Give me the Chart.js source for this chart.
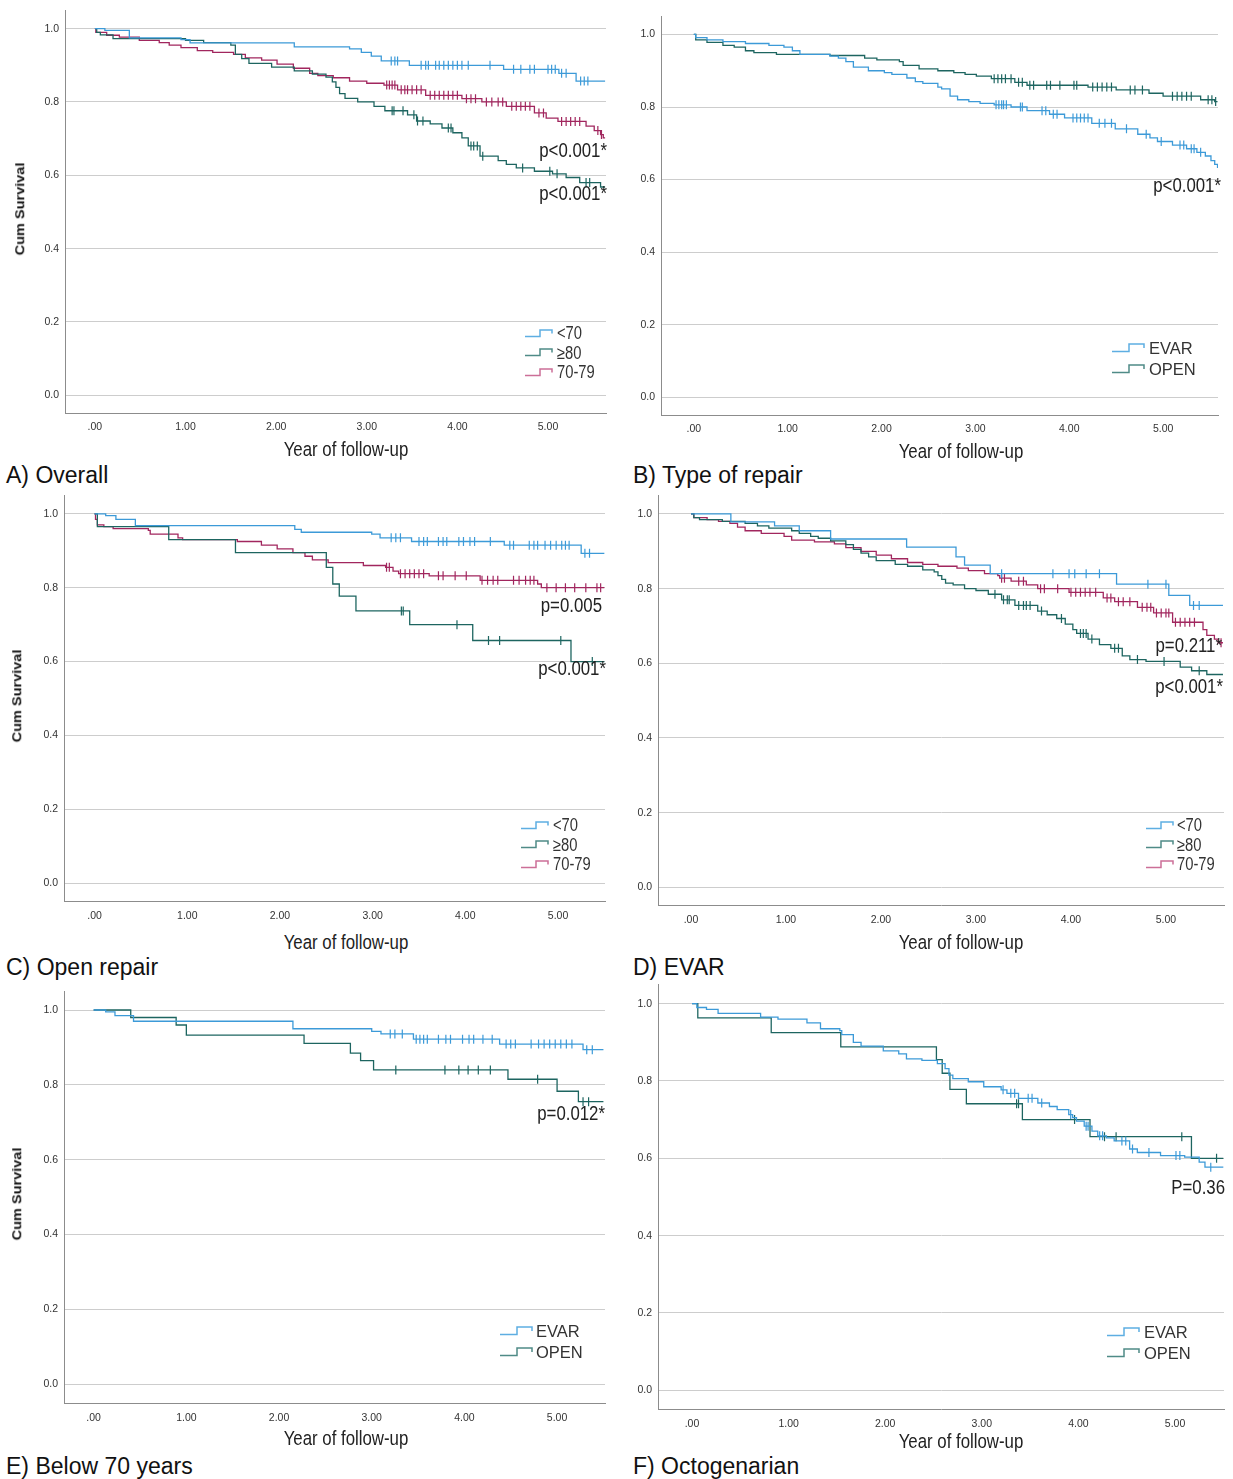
<!DOCTYPE html>
<html>
<head>
<meta charset="utf-8">
<script src="https://cdn.jsdelivr.net/npm/chart.js@4.4.1/dist/chart.umd.min.js"></script>
<style>
  body { margin: 0; background: #fff; width: 1233px; height: 1479px; position: relative; overflow: hidden;
         font-family: "Liberation Sans", Arial, sans-serif; color: #1a1a1a; }
  canvas { position: absolute; }
  .txt { position: absolute; white-space: nowrap; line-height: 1; }
  .panel-label { font-size: 23px; color: #111; transform: translate(0, -50%); }
  .x-title { font-size: 20.5px; color: #222; transform: translate(-50%, -50%) scaleX(0.82); }
  .y-title { font-size: 14.5px; font-weight: bold; color: #111; transform: translate(-50%, -50%) rotate(-90deg) scaleY(0.82); }
  .pval { font-size: 20.5px; color: #222; transform-origin: 100% 50%; transform: translate(-100%, -50%) scaleX(0.82); }
  .leg { position: absolute; white-space: nowrap; line-height: 1; color: #333; transform-origin: 0 50%; }
  svg { position: absolute; overflow: visible; }
</style>
</head>
<body>
<script>
// tick values shared by all panels
const xTicks = [0, 1, 2, 3, 4, 5];
const yTicks = [0, 0.2, 0.4, 0.6, 0.8, 1.0];

// A) Overall  -- [time, survival after the drop], censored times
const aLt70Steps = [[0.11,0.995],[0.38,0.975],[0.95,0.970],[1.05,0.961],[2.2,0.950],[2.81,0.945],[2.94,0.935],[3.05,0.925],[3.16,0.912],[3.47,0.900],[4.51,0.889],[5.12,0.878],[5.31,0.857]];
const aLt70Cens = [3.27,3.31,3.34,3.60,3.65,3.68,3.76,3.80,3.85,3.90,3.95,4.00,4.05,4.12,4.36,4.62,4.70,4.80,4.85,5.00,5.04,5.08,5.15,5.20,5.36,5.40,5.44];
const a80Steps = [[0.02,0.99],[0.06,0.983],[0.2,0.973],[1.0,0.968],[1.2,0.962],[1.5,0.955],[1.55,0.93],[1.62,0.918],[1.7,0.905],[1.95,0.895],[2.2,0.885],[2.4,0.876],[2.55,0.868],[2.62,0.855],[2.66,0.84],[2.7,0.823],[2.76,0.81],[2.9,0.80],[3.08,0.788],[3.2,0.776],[3.45,0.765],[3.55,0.748],[3.7,0.74],[3.83,0.729],[3.95,0.716],[4.05,0.702],[4.12,0.68],[4.25,0.652],[4.45,0.64],[4.54,0.63],[4.65,0.62],[4.85,0.611],[5.05,0.604],[5.2,0.594],[5.35,0.58],[5.58,0.568]];
const a80Cens = [3.28,3.30,3.40,3.52,3.56,3.62,3.90,3.93,4.15,4.18,4.22,4.28,4.72,5.02,5.10,5.42,5.46];
const a7079Steps = [[0.01,0.99],[0.13,0.982],[0.27,0.977],[0.49,0.968],[0.71,0.962],[0.82,0.955],[0.95,0.948],[1.13,0.94],[1.3,0.935],[1.53,0.93],[1.66,0.92],[1.84,0.914],[2.01,0.903],[2.19,0.892],[2.37,0.878],[2.46,0.872],[2.63,0.866],[2.81,0.857],[3.0,0.851],[3.19,0.846],[3.34,0.833],[3.65,0.818],[4.05,0.809],[4.27,0.80],[4.54,0.788],[4.85,0.77],[4.98,0.756],[5.11,0.747],[5.42,0.734],[5.51,0.722],[5.58,0.711],[5.61,0.702]];
const a7079Cens = [3.22,3.25,3.28,3.31,3.38,3.42,3.45,3.50,3.55,3.60,3.70,3.75,3.80,3.85,3.90,3.95,4.00,4.10,4.15,4.20,4.32,4.38,4.45,4.50,4.60,4.65,4.70,4.75,4.80,4.90,4.95,5.15,5.20,5.25,5.30,5.35,5.55,5.59];

// B) Type of repair
const bEvarSteps = [[0.02,0.991],[0.14,0.985],[0.31,0.98],[0.55,0.975],[0.8,0.97],[0.96,0.965],[1.05,0.955],[1.13,0.945],[1.45,0.94],[1.54,0.935],[1.62,0.925],[1.70,0.91],[1.86,0.90],[2.03,0.895],[2.11,0.89],[2.27,0.88],[2.36,0.87],[2.44,0.865],[2.6,0.855],[2.64,0.85],[2.73,0.83],[2.81,0.82],[2.93,0.815],[3.05,0.81],[3.2,0.806],[3.38,0.80],[3.55,0.79],[3.79,0.78],[3.95,0.77],[4.24,0.755],[4.49,0.74],[4.73,0.725],[4.86,0.715],[4.94,0.705],[5.1,0.695],[5.25,0.685],[5.36,0.675],[5.45,0.665],[5.51,0.652],[5.55,0.642],[5.58,0.632]];
const bEvarCens = [3.22,3.25,3.28,3.30,3.33,3.48,3.50,3.71,3.75,3.83,3.87,4.04,4.08,4.12,4.16,4.20,4.32,4.38,4.45,4.61,4.82,4.98,5.18,5.22,5.30,5.33,5.40];
const bOpenSteps = [[0.02,0.985],[0.14,0.978],[0.31,0.97],[0.43,0.965],[0.55,0.955],[0.64,0.95],[0.88,0.945],[1.45,0.942],[1.82,0.935],[1.95,0.93],[2.19,0.925],[2.23,0.915],[2.4,0.905],[2.6,0.90],[2.77,0.895],[2.89,0.89],[3.01,0.885],[3.17,0.878],[3.42,0.868],[3.55,0.86],[4.2,0.855],[4.5,0.847],[4.85,0.838],[5.0,0.83],[5.4,0.82],[5.55,0.815]];
const bOpenCens = [3.20,3.24,3.28,3.32,3.38,3.46,3.50,3.58,3.62,3.76,3.80,3.90,4.05,4.08,4.25,4.30,4.35,4.40,4.45,4.65,4.70,4.78,5.10,5.15,5.20,5.25,5.30,5.48,5.52,5.56];

// C) Open repair
const cLt70Steps = [[0.12,0.995],[0.23,0.985],[0.44,0.968],[2.16,0.958],[2.23,0.95],[2.99,0.945],[3.08,0.935],[3.42,0.925],[4.42,0.915],[5.25,0.893]];
const cLt70Cens = [3.20,3.25,3.30,3.50,3.55,3.59,3.71,3.76,3.80,3.93,3.98,4.05,4.10,4.27,4.48,4.52,4.69,4.74,4.78,4.86,4.92,4.98,5.04,5.08,5.12,5.29,5.34];
const c80Steps = [[0.03,0.965],[0.8,0.93],[1.52,0.895],[2.5,0.855],[2.57,0.81],[2.64,0.777],[2.82,0.737],[3.4,0.70],[4.08,0.657],[5.14,0.60]];
const c80Cens = [3.31,3.33,3.91,4.25,4.37,5.03,5.37];
const c7079Steps = [[0.01,0.985],[0.03,0.97],[0.1,0.965],[0.2,0.96],[0.58,0.955],[0.6,0.945],[0.9,0.935],[0.95,0.93],[1.54,0.925],[1.8,0.915],[1.97,0.905],[2.14,0.895],[2.27,0.885],[2.35,0.875],[2.52,0.868],[2.9,0.86],[3.14,0.855],[3.22,0.845],[3.28,0.838],[3.61,0.832],[4.16,0.82],[4.78,0.81],[4.82,0.80]];
const c7079Cens = [3.15,3.18,3.30,3.35,3.40,3.45,3.50,3.55,3.71,3.76,3.89,4.01,4.18,4.24,4.30,4.35,4.52,4.58,4.65,4.70,4.74,4.88,4.98,5.08,5.18,5.30,5.42,5.46];

// D) EVAR
const dLt70Steps = [[0.42,0.979],[0.88,0.968],[1.14,0.955],[1.47,0.933],[2.27,0.911],[2.79,0.885],[2.88,0.863],[3.15,0.84],[4.48,0.812],[5.03,0.782],[5.25,0.755]];
const dLt70Cens = [3.27,3.81,3.98,4.04,4.16,4.30,4.81,5.00,5.29,5.35];
const d80Steps = [[0.03,0.99],[0.09,0.985],[0.33,0.98],[0.57,0.975],[0.7,0.968],[0.82,0.962],[1.06,0.955],[1.14,0.948],[1.26,0.94],[1.34,0.935],[1.47,0.928],[1.63,0.918],[1.71,0.905],[1.79,0.895],[1.87,0.885],[1.95,0.875],[2.15,0.865],[2.28,0.86],[2.44,0.85],[2.56,0.845],[2.6,0.835],[2.64,0.825],[2.68,0.815],[2.76,0.81],[2.88,0.80],[3.0,0.795],[3.13,0.785],[3.27,0.77],[3.41,0.755],[3.65,0.74],[3.75,0.73],[3.85,0.72],[3.94,0.705],[4.02,0.69],[4.06,0.68],[4.18,0.665],[4.3,0.65],[4.42,0.64],[4.54,0.62],[4.62,0.61],[4.79,0.605],[5.15,0.59],[5.27,0.58],[5.43,0.57]];
const d80Cens = [3.20,3.29,3.33,3.35,3.45,3.50,3.53,3.57,3.69,3.90,4.10,4.13,4.16,4.22,4.46,4.50,4.70,4.98,5.35];
const d7079Steps = [[0.03,0.99],[0.17,0.985],[0.29,0.98],[0.41,0.975],[0.49,0.965],[0.57,0.955],[0.74,0.948],[0.98,0.94],[1.06,0.93],[1.3,0.925],[1.51,0.92],[1.63,0.91],[1.79,0.90],[1.95,0.89],[2.11,0.88],[2.28,0.87],[2.44,0.865],[2.6,0.86],[2.8,0.855],[2.92,0.848],[3.09,0.84],[3.23,0.835],[3.25,0.828],[3.37,0.82],[3.53,0.81],[3.65,0.80],[3.98,0.79],[4.34,0.775],[4.46,0.765],[4.7,0.75],[4.87,0.735],[5.07,0.71],[5.39,0.69],[5.43,0.675],[5.51,0.665],[5.55,0.655]];
const d7079Cens = [3.27,3.30,3.45,3.50,3.68,3.72,3.86,4.00,4.05,4.10,4.15,4.20,4.26,4.38,4.42,4.50,4.55,4.62,4.75,4.80,4.84,4.90,4.95,5.00,5.03,5.10,5.15,5.20,5.25,5.30,5.58];

// E) Below 70 years
const eEvarSteps = [[0.13,0.995],[0.23,0.985],[0.43,0.97],[2.15,0.95],[3.0,0.943],[3.1,0.936],[3.45,0.922],[4.38,0.909],[5.28,0.894]];
const eEvarCens = [3.20,3.25,3.33,3.48,3.52,3.56,3.60,3.72,3.80,3.85,3.98,4.05,4.10,4.20,4.30,4.45,4.50,4.55,4.72,4.80,4.86,4.92,4.98,5.04,5.10,5.16,5.32,5.38];
const eOpenSteps = [[0.4,0.98],[0.89,0.96],[1.0,0.933],[2.27,0.911],[2.77,0.885],[2.88,0.865],[3.02,0.84],[4.47,0.815],[5.0,0.783],[5.23,0.755]];
const eOpenCens = [3.26,3.79,3.94,4.04,4.15,4.28,4.79,5.28,5.34];

// F) Octogenarian
const fEvarSteps = [[0.05,0.99],[0.15,0.985],[0.27,0.975],[0.71,0.965],[0.89,0.96],[1.19,0.95],[1.33,0.935],[1.53,0.93],[1.55,0.92],[1.67,0.9],[1.75,0.89],[1.98,0.878],[2.14,0.87],[2.22,0.857],[2.38,0.853],[2.54,0.845],[2.62,0.832],[2.66,0.815],[2.70,0.806],[2.86,0.798],[3.02,0.785],[3.2,0.777],[3.26,0.768],[3.38,0.755],[3.58,0.743],[3.7,0.734],[3.78,0.726],[3.9,0.713],[3.94,0.705],[3.98,0.696],[4.06,0.683],[4.14,0.67],[4.2,0.658],[4.29,0.653],[4.37,0.645],[4.53,0.624],[4.61,0.615],[4.85,0.607],[5.1,0.603],[5.25,0.59],[5.31,0.577]];
const fEvarCens = [3.22,3.30,3.34,3.48,3.52,3.62,3.92,4.08,4.10,4.22,4.25,4.45,4.49,4.56,4.73,5.01,5.05,5.37];
const fOpenSteps = [[0.06,0.963],[0.82,0.925],[1.54,0.888],[2.53,0.855],[2.59,0.82],[2.67,0.778],[2.84,0.741],[3.42,0.70],[4.12,0.656],[5.17,0.60]];
const fOpenCens = [3.36,3.38,3.96,4.27,4.39,5.07,5.43];

const BLUE = '#3c9ad8', TEAL = '#1d6560', CRIMSON = '#a1265e';
const BLUE_L = '#5eaee2', TEAL_L = '#4f8b87', CRIMSON_L = '#cc6f98';

const ageGroups = (lt70, ge80, g7079, end) => [
  { label: '<70', color: BLUE, legendColor: BLUE_L, steps: lt70[0], cens: lt70[1], end },
  { label: '\u226580', color: TEAL, legendColor: TEAL_L, steps: ge80[0], cens: ge80[1], end },
  { label: '70-79', color: CRIMSON, legendColor: CRIMSON_L, steps: g7079[0], cens: g7079[1], end }
];
const repairGroups = (evar, open, end) => [
  { label: 'EVAR', color: BLUE, legendColor: BLUE_L, steps: evar[0], cens: evar[1], end },
  { label: 'OPEN', color: TEAL, legendColor: TEAL_L, steps: open[0], cens: open[1], end }
];

// layout of the six panels (page pixels)
const panels = [
  { left: 0, l: 65, r: 606, y1: 23, y0: 395, xMin: -0.33, xMax: 5.64, tickY: 427,
    series: ageGroups([aLt70Steps, aLt70Cens], [a80Steps, a80Cens], [a7079Steps, a7079Cens], 5.63),
    label: 'A) Overall', labelX: 6, labelY: 475, xTitle: [346, 449], yTitle: [20, 209],
    pvals: [['p<0.001*', 607, 150], ['p<0.001*', 607, 193]],
    legend: { iconX: 525, textX: 557, y: 333, dy: 19.5, size: 18, squeeze: 0.82, w: 28, h: 7 } },
  { left: 628, l: 661, r: 1218, y1: 28, y0: 397, xMin: -0.35, xMax: 5.585, tickY: 429,
    series: repairGroups([bEvarSteps, bEvarCens], [bOpenSteps, bOpenCens], 5.58),
    label: 'B) Type of repair', labelX: 633, labelY: 475, xTitle: [961, 451], yTitle: null,
    pvals: [['p<0.001*', 1221, 185]],
    legend: { iconX: 1112, textX: 1149, y: 348, dy: 21, size: 16.5, squeeze: 1, w: 33, h: 8 } },
  { left: 0, l: 64, r: 605, y1: 508, y0: 883, xMin: -0.33, xMax: 5.507, tickY: 916,
    series: ageGroups([cLt70Steps, cLt70Cens], [c80Steps, c80Cens], [c7079Steps, c7079Cens], 5.5),
    label: 'C) Open repair', labelX: 6, labelY: 967, xTitle: [346, 942], yTitle: [17, 696],
    pvals: [['p=0.005', 602, 605], ['p<0.001*', 606, 668]],
    legend: { iconX: 521, textX: 553, y: 825, dy: 19.5, size: 18, squeeze: 0.82, w: 28, h: 7 } },
  { left: 628, l: 658, r: 1224, y1: 508, y0: 887, xMin: -0.347, xMax: 5.611, tickY: 920,
    series: ageGroups([dLt70Steps, dLt70Cens], [d80Steps, d80Cens], [d7079Steps, d7079Cens], 5.6),
    label: 'D) EVAR', labelX: 633, labelY: 967, xTitle: [961, 942], yTitle: null,
    pvals: [['p=0.211*', 1222, 645], ['p<0.001*', 1223, 686]],
    legend: { iconX: 1146, textX: 1177, y: 825, dy: 19.5, size: 18, squeeze: 0.82, w: 28, h: 7 } },
  { left: 0, l: 64, r: 605, y1: 1004, y0: 1384, xMin: -0.32, xMax: 5.517, tickY: 1418,
    series: repairGroups([eEvarSteps, eEvarCens], [eOpenSteps, eOpenCens], 5.5),
    label: 'E) Below 70 years', labelX: 6, labelY: 1466, xTitle: [346, 1438], yTitle: [17, 1194],
    pvals: [['p=0.012*', 605, 1113]],
    legend: { iconX: 500, textX: 536, y: 1331, dy: 21, size: 16.5, squeeze: 1, w: 33, h: 8 } },
  { left: 628, l: 658, r: 1224, y1: 998, y0: 1390, xMin: -0.352, xMax: 5.507, tickY: 1424,
    series: repairGroups([fEvarSteps, fEvarCens], [fOpenSteps, fOpenCens], 5.5),
    label: 'F) Octogenarian', labelX: 633, labelY: 1466, xTitle: [961, 1441], yTitle: null,
    pvals: [['P=0.36', 1225, 1187]],
    legend: { iconX: 1107, textX: 1144, y: 1332, dy: 21, size: 16.5, squeeze: 1, w: 33, h: 8 } }
];

function survAt(steps, t) {
  let s = 1;
  for (const [time, value] of steps) {
    if (time <= t) s = value;
  }
  return s;
}

function addText(cls, text, x, y) {
  const d = document.createElement('div');
  d.className = 'txt ' + cls;
  d.textContent = text;
  d.style.left = x + 'px';
  d.style.top = y + 'px';
  document.body.appendChild(d);
}

function addLegend(p) {
  const lg = p.legend;
  p.series.forEach((s, i) => {
    const y = lg.y + i * lg.dy;
    const svg = document.createElementNS('http://www.w3.org/2000/svg', 'svg');
    svg.setAttribute('width', lg.w);
    svg.setAttribute('height', lg.h + 2);
    svg.style.left = lg.iconX + 'px';
    svg.style.top = (y - lg.h / 2 - 1) + 'px';
    const mid = Math.round(lg.w * 0.52);
    const path = document.createElementNS('http://www.w3.org/2000/svg', 'path');
    path.setAttribute('d', `M0 ${lg.h + 0.5} H${mid} V1 H${lg.w - 1} V${lg.h * 0.5 + 1}`);
    path.setAttribute('fill', 'none');
    path.setAttribute('stroke', s.legendColor);
    path.setAttribute('stroke-width', '1.5');
    svg.appendChild(path);
    document.body.appendChild(svg);

    const t = document.createElement('div');
    t.className = 'leg';
    t.textContent = s.label;
    t.style.left = lg.textX + 'px';
    t.style.top = y + 'px';
    t.style.fontSize = lg.size + 'px';
    t.style.transform = `translate(0, -50%) scaleX(${lg.squeeze})`;
    document.body.appendChild(t);
  });
}

function drawPanel(p) {
  const unit = p.y0 - p.y1;
  const areaTop = p.y1 - 0.05 * unit;
  const areaBottom = p.y0 + 0.05 * unit;
  const cTop = Math.round(areaTop) - 6;
  const cWidth = Math.round(p.r) + 8 - p.left;
  const cHeight = p.tickY + 10 - cTop;

  const canvas = document.createElement('canvas');
  canvas.width = cWidth;
  canvas.height = cHeight;
  canvas.style.left = p.left + 'px';
  canvas.style.top = cTop + 'px';
  canvas.style.width = cWidth + 'px';
  canvas.style.height = cHeight + 'px';
  document.body.appendChild(canvas);

  const datasets = [];
  p.series.forEach(s => {
    const pts = [{ x: 0, y: 1 }].concat(s.steps.map(([t, v]) => ({ x: t, y: v })));
    pts.push({ x: s.end, y: s.steps[s.steps.length - 1][1] });
    datasets.push({
      label: s.label, data: pts, stepped: 'before',
      borderColor: s.color, borderWidth: 1.3, pointRadius: 0, fill: false
    });
    datasets.push({
      label: s.label + ' censored', data: s.cens.map(t => ({ x: t, y: survAt(s.steps, t) })),
      showLine: false, pointStyle: 'line', pointRotation: 90, pointRadius: 4.5,
      pointBorderColor: s.color, pointBorderWidth: 1.2, pointBackgroundColor: s.color
    });
  });

  const tickFont = { family: '"Liberation Sans", Arial, sans-serif', size: 10.5 };

  new Chart(canvas.getContext('2d'), {
    type: 'line',
    data: { datasets },
    options: {
      responsive: false,
      animation: false,
      devicePixelRatio: 1,
      layout: { padding: { top: areaTop - cTop, right: (p.left + cWidth) - p.r, left: 0, bottom: 0 } },
      plugins: { legend: { display: false }, tooltip: { enabled: false } },
      scales: {
        x: {
          type: 'linear', min: p.xMin, max: p.xMax, bounds: 'data',
          afterBuildTicks: s => { s.ticks = xTicks.map(v => ({ value: v })); },
          afterFit: s => { s.height = (cTop + cHeight) - areaBottom; },
          grid: { display: false, drawTicks: false },
          border: { display: true, color: '#8c8c8c', width: 1 },
          ticks: {
            font: tickFont, color: '#333', maxRotation: 0, autoSkip: false,
            padding: p.tickY - 6 - areaBottom,
            callback: v => (v === 0 ? '.00' : v.toFixed(2))
          }
        },
        y: {
          type: 'linear', min: -0.05, max: 1.05, bounds: 'data',
          afterBuildTicks: s => { s.ticks = yTicks.map(v => ({ value: v })); },
          afterFit: s => { s.width = p.l - p.left; },
          grid: { color: '#cdcdcd', lineWidth: 1, drawTicks: false },
          border: { display: true, color: '#8c8c8c', width: 1 },
          ticks: {
            font: tickFont, color: '#333', padding: 6,
            callback: v => v.toFixed(1)
          }
        }
      }
    }
  });

  addText('panel-label', p.label, p.labelX, p.labelY);
  addText('x-title', 'Year of follow-up', p.xTitle[0], p.xTitle[1]);
  if (p.yTitle) addText('y-title', 'Cum Survival', p.yTitle[0], p.yTitle[1]);
  p.pvals.forEach(([text, x, y]) => addText('pval', text, x, y));
  addLegend(p);
}

panels.forEach(drawPanel);
</script>
</body>
</html>
